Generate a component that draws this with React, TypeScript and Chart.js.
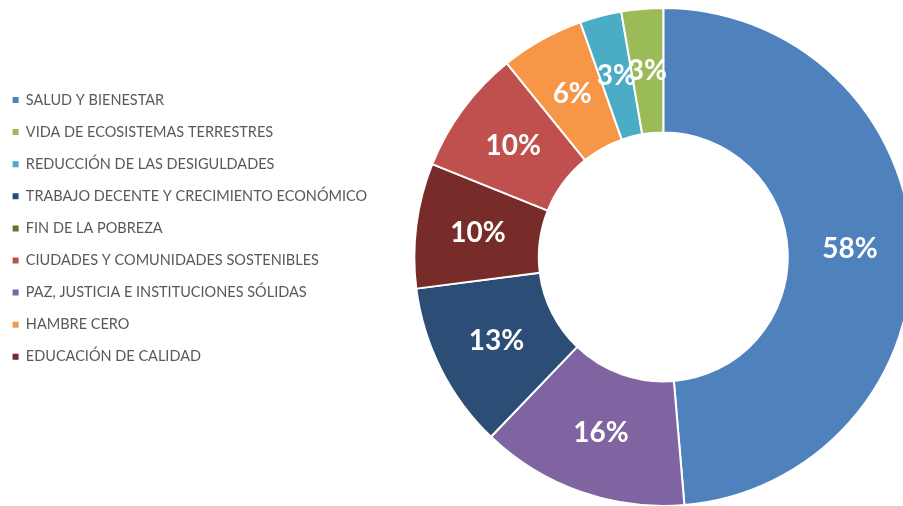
import React, { useEffect, useRef } from "react";
import { Chart, registerables } from "chart.js";

Chart.register(...registerables);

// Slices in drawing order (clockwise from 12 o'clock)
const categories = [
  "SALUD Y BIENESTAR",
  "PAZ, JUSTICIA E INSTITUCIONES SÓLIDAS",
  "TRABAJO DECENTE Y CRECIMIENTO ECONÓMICO",
  "EDUCACIÓN DE CALIDAD",
  "CIUDADES Y COMUNIDADES SOSTENIBLES",
  "HAMBRE CERO",
  "REDUCCIÓN DE LAS DESIGULDADES",
  "VIDA DE ECOSISTEMAS TERRESTRES",
  "FIN DE LA POBREZA",
];
const counts = [18, 5, 4, 3, 3, 2, 1, 1, 0];
const percentLabels = ["58%", "16%", "13%", "10%", "10%", "6%", "3%", "3%", ""];
const colors = [
  "#4F81BD",
  "#8064A2",
  "#2C4D75",
  "#772C2A",
  "#C0504D",
  "#F79646",
  "#4BACC6",
  "#9BBB59",
  "#5F7530",
];
// Order in which the legend lists the categories
const legendOrder = [
  "SALUD Y BIENESTAR",
  "VIDA DE ECOSISTEMAS TERRESTRES",
  "REDUCCIÓN DE LAS DESIGULDADES",
  "TRABAJO DECENTE Y CRECIMIENTO ECONÓMICO",
  "FIN DE LA POBREZA",
  "CIUDADES Y COMUNIDADES SOSTENIBLES",
  "PAZ, JUSTICIA E INSTITUCIONES SÓLIDAS",
  "HAMBRE CERO",
  "EDUCACIÓN DE CALIDAD",
];

const LEGEND_FONT = 14.5;
const LEGEND_PAD = 17.6;
const CANVAS_SHIFT = -5.3;
const CANVAS_W = 930;
const CANVAS_H = 506;
const CENTER_X = 663 - CANVAS_SHIFT;
const CENTER_Y = 257;
const OUTER_R = 249;
const INNER_R = 124;

const areaPlugin = {
  id: "ringArea",
  afterLayout(chart: any) {
    chart.chartArea = {
      left: CENTER_X - OUTER_R,
      right: CENTER_X + OUTER_R,
      top: CENTER_Y - OUTER_R,
      bottom: CENTER_Y + OUTER_R,
      width: OUTER_R * 2,
      height: OUTER_R * 2,
    };
  },
};

const labelPlugin = {
  id: "sliceLabels",
  afterDatasetsDraw(chart: any) {
    const ctx = chart.ctx;
    const meta = chart.getDatasetMeta(0);
    ctx.save();
    ctx.fillStyle = "#FFFFFF";
    ctx.font = "bold 28px Lato";
    ctx.textAlign = "center";
    ctx.textBaseline = "middle";
    meta.data.forEach((arc: any, i: number) => {
      const txt = percentLabels[i];
      if (!txt || !counts[i]) return;
      const p = arc.tooltipPosition();
      ctx.fillText(txt, p.x, p.y);
    });
    ctx.restore();
  },
};

export default function App() {
  const ref = useRef<HTMLCanvasElement>(null);
  useEffect(() => {
    if (!ref.current) return;
    const defaultGen = (Chart as any).overrides.doughnut.plugins.legend.labels.generateLabels;
    const chart = new Chart(ref.current, {
      type: "doughnut",
      data: {
        labels: categories,
        datasets: [
          {
            data: counts,
            backgroundColor: colors,
            borderColor: "#FFFFFF",
            borderWidth: 2,
            radius: OUTER_R,
            cutout: INNER_R,
            clip: false,
          } as any,
        ],
      },
      options: {
        responsive: false,
        animation: false,
        devicePixelRatio: 1,
        layout: { padding: { top: 100 - LEGEND_FONT / 2 - LEGEND_PAD, left: 0, right: 0, bottom: 0 } },
        plugins: {
          tooltip: { enabled: false },
          legend: {
            display: true,
            position: "left",
            align: "start",
            labels: {
              boxWidth: 6,
              boxHeight: 6,
              padding: LEGEND_PAD,
              color: "#595959",
              font: { family: "Lato", size: LEGEND_FONT },
              generateLabels: (c: any) =>
                defaultGen(c).map((l: any) => ({ ...l, lineWidth: 0, hidden: false })),
              sort: (a: any, b: any) =>
                legendOrder.indexOf(a.text) - legendOrder.indexOf(b.text),
            },
          },
        },
      } as any,
      plugins: [areaPlugin, labelPlugin],
    });
    return () => chart.destroy();
  }, []);
  return (
    <div
      style={{
        position: "fixed",
        left: 0,
        top: 0,
        width: 903,
        height: 506,
        overflow: "hidden",
        background: "#FFFFFF",
      }}
    >
      <canvas
        ref={ref}
        width={CANVAS_W}
        height={CANVAS_H}
        style={{ position: "absolute", left: CANVAS_SHIFT, top: 0, width: CANVAS_W, height: CANVAS_H }}
      />
    </div>
  );
}
